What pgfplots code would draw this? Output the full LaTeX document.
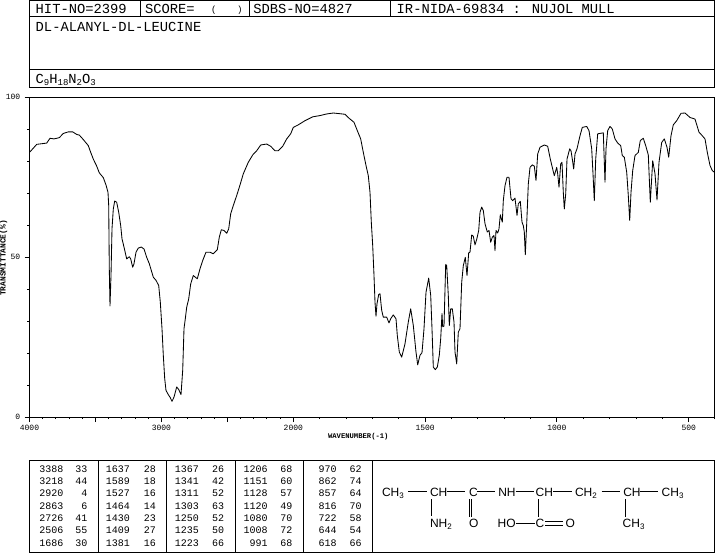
\documentclass[border=0pt]{standalone}
\usepackage{fontspec}
\usepackage{pgfplots}
\pgfplotsset{compat=1.18}
\setmainfont{Liberation Sans}
\newfontfamily\monoface{Liberation Mono}
\newcommand{\hd}{\monoface\fontsize{13.8}{14}\selectfont}
\newcommand{\hds}{\monoface\fontsize{9}{9}\selectfont}
\newcommand{\tb}{\monoface\fontsize{10}{10}\selectfont}
\newcommand{\ticks}{\monoface\fontsize{8}{8}\selectfont}
\newcommand{\st}{\fontsize{12}{12}\selectfont}
\newcommand{\sts}{\fontsize{8}{8}\selectfont}
\pgfplotstableread{
pos T
0.0 82.7
3.8 84.0
7.2 85.2
12.2 85.4
17.2 85.6
20.5 87.1
24.5 86.9
29.8 87.3
33.8 88.6
38.8 89.1
43.2 89.1
47.2 88.3
49.8 88.1
53.8 86.7
58.8 84.8
61.2 82.7
63.8 80.6
67.2 78.4
69.8 76.3
73.8 74.8
76.5 72.5
78.5 70.2
79.2 66.1
79.8 46.3
80.5 34.7
81.5 44.2
82.5 58.8
83.8 65.0
85.2 67.5
87.2 67.1
89.2 64.0
91.2 59.8
92.5 55.7
94.5 53.1
97.2 49.4
99.8 50.1
101.2 49.4
103.2 46.8
104.5 47.9
106.5 51.5
108.8 52.8
111.8 53.1
114.5 52.5
117.2 49.9
119.8 47.9
121.8 45.8
123.8 43.7
126.5 42.7
129.2 41.1
130.8 35.9
132.5 27.6
133.8 19.3
135.2 12.0
136.5 8.3
138.8 7.0
140.5 6.2
142.5 4.9
144.5 6.2
147.2 9.4
149.2 8.6
151.5 7.0
153.2 14.6
154.5 27.6
155.8 30.7
157.2 34.3
159.2 36.9
161.2 41.6
163.8 44.2
167.8 43.2
170.5 46.3
173.2 48.9
176.5 51.5
180.5 51.5
183.8 51.0
187.8 52.3
189.8 56.2
191.8 58.5
194.5 58.3
197.2 57.4
199.2 58.8
201.2 63.5
203.8 66.1
207.2 69.2
210.5 72.5
213.8 76.0
218.8 79.6
223.2 81.9
227.2 83.2
231.2 85.0
237.2 85.3
241.2 84.6
245.5 83.2
248.8 83.2
253.2 84.6
257.2 86.9
261.2 88.5
263.8 90.5
268.8 91.3
275.5 92.6
283.2 93.8
290.5 94.2
297.2 94.7
303.8 95.0
315.5 94.6
319.8 93.3
324.5 92.1
327.8 89.5
331.2 86.9
333.8 82.7
336.5 78.6
338.8 75.4
340.5 70.2
341.8 60.9
343.2 53.6
344.5 44.2
345.5 35.9
346.5 31.5
347.5 35.4
349.2 38.3
350.5 38.5
352.2 33.3
353.8 31.2
357.2 31.2
359.5 29.4
361.2 30.7
363.8 31.9
366.5 30.7
367.8 25.5
369.8 20.3
372.2 18.7
375.5 22.9
378.8 29.7
381.2 33.8
383.8 28.6
386.5 20.3
388.2 16.3
390.5 19.3
392.5 20.1
394.5 27.6
396.5 39.0
399.2 43.4
401.2 38.0
402.5 27.6
403.8 15.6
405.8 14.8
407.8 15.6
409.8 19.3
411.2 24.5
412.5 32.3
413.2 28.2
414.5 28.4
416.2 47.7
417.2 47.3
418.8 38.0
419.8 28.6
421.2 33.8
422.8 33.8
424.5 29.7
425.5 20.3
427.2 16.6
428.8 26.5
430.5 27.6
432.2 42.1
433.8 47.3
435.8 49.9
437.5 44.2
439.2 51.3
440.5 51.5
442.2 56.9
443.8 56.5
445.5 53.8
447.2 55.5
449.2 58.3
450.5 64.0
452.2 65.6
453.8 64.5
455.5 60.4
457.8 57.8
459.5 58.3
461.2 54.6
462.8 56.2
464.5 56.7
465.5 52.0
466.5 58.3
468.2 57.5
469.5 58.8
470.8 63.2
472.8 60.9
473.8 67.6
475.5 72.3
477.5 74.9
479.5 74.9
481.5 68.2
483.2 67.6
485.5 68.4
487.5 63.0
488.8 66.6
490.8 67.4
492.5 60.9
493.8 59.8
494.8 57.8
495.8 50.7
497.2 60.4
498.8 72.8
500.5 78.0
502.8 78.8
504.8 78.4
506.5 73.9
508.2 82.2
510.5 84.3
514.8 85.0
518.2 84.6
520.8 80.6
522.8 78.0
524.8 75.4
527.2 78.0
528.2 76.0
529.5 71.8
531.2 79.1
532.5 79.6
533.8 70.2
534.8 65.0
536.2 69.7
537.5 80.6
540.2 83.8
541.5 83.2
542.8 80.6
544.2 77.5
545.5 82.2
547.5 83.8
550.5 87.9
552.8 90.5
557.2 90.8
559.5 89.5
562.2 83.8
563.5 76.0
564.8 67.6
566.2 80.6
568.2 88.5
573.8 88.8
575.5 73.4
576.5 83.8
578.2 89.5
580.5 90.8
582.8 90.0
585.5 86.9
588.2 85.6
591.2 84.8
592.8 81.7
594.8 81.2
597.2 76.5
598.8 69.2
600.2 61.4
601.5 70.2
603.2 77.0
605.5 81.7
608.8 82.7
610.8 86.4
613.8 87.1
616.2 84.8
618.8 81.9
620.8 67.1
623.2 80.1
625.5 76.0
627.5 67.8
629.5 79.6
632.2 85.8
634.8 86.9
637.5 84.3
639.2 81.2
641.5 87.9
643.8 91.3
647.2 92.6
651.5 94.9
655.5 95.0
660.5 93.6
665.5 93.1
669.5 89.0
672.2 88.1
675.5 86.9
677.8 82.7
680.5 78.6
682.8 77.0
684.8 76.5
}\spectrum
\begin{document}
\begin{tikzpicture}[x=1pt,y=-1pt,line width=0.9pt]
\path[use as bounding box] (0,0) rectangle (715,553);
\begin{axis}[
  at={(29.5pt,-417pt)},anchor=south west,
  scale only axis,width=685pt,height=320pt,
  xmin=0,xmax=685,ymin=0,ymax=100,
  axis line style={line width=0.9pt},
  tick style={black,line width=0.9pt},
  tick align=outside,xtick pos=bottom,ytick pos=left,
  major tick length=5pt,minor tick length=2.2pt,
  xtick={0,65.95,131.9,197.8,263.8,395.6,527.4,659.3},
  xticklabels={4000,,3000,,2000,1500,1000,500},
  minor xtick={13.2,26.4,39.6,52.8,79.1,92.3,105.5,118.7,145.1,158.3,171.5,184.6,211,224.2,237.4,250.6,290.2,316.5,342.9,369.3,421.9,448.3,474.7,501,553.8,580.2,606.5,632.9,685},
  ytick={0,50,100},yticklabels={0,50,100},
  minor ytick={10,20,30,40,60,70,80,90},
  tick label style={font=\ticks,inner sep=0pt},
  xticklabel style={yshift=-3pt},
  yticklabel style={xshift=-4pt},
  xlabel={\monoface\bfseries\fontsize{7.2}{7.2}\selectfont WAVENUMBER(-1)},
  xlabel style={at={(axis description cs:0.48,-0.06)},anchor=center,inner sep=0pt},
  ylabel={\monoface\bfseries\fontsize{7.9}{7.9}\selectfont TRANSMITTANCE(\%)},
  ylabel style={at={(axis description cs:-0.038,0.497)},anchor=center,inner sep=0pt},
]
\addplot[black,line width=0.85pt,line join=round] table[x=pos,y=T] {\spectrum};
\end{axis}
\begin{scope}[every node/.style={inner sep=0pt,outer sep=0pt}]
% header
\draw (29.3,0.5) rectangle (714.3,87.3);
\draw (29.3,16.7)--(714.3,16.7) (29.3,69.3)--(714.3,69.3);
\draw (140.7,0.5)--(140.7,16.7) (249,0.5)--(249,16.7) (390.7,0.5)--(390.7,16.7);
\node[anchor=base west,font=\hd] at (35.7,13.5) {HIT-NO=2399};
\node[anchor=base west,font=\hd] at (145,13.5) {SCORE=};
\node[anchor=base west,font=\hds] at (211,13) {(};
\node[anchor=base west,font=\hds] at (237,13) {)};
\node[anchor=base west,font=\hd] at (253.3,13.5) {SDBS-NO=4827};
\node[anchor=base west,font=\hd] at (396.7,13.5) {IR-NIDA-69834 : NUJOL MULL};
\node[anchor=base west,font=\hd] at (35.7,31.5) {DL-ALANYL-DL-LEUCINE};
\node[anchor=base west,font=\hd] at (35.7,84) {C\raisebox{-1.5pt}{\hds 9}H\raisebox{-1.5pt}{\hds 18}N\raisebox{-1.5pt}{\hds 2}O\raisebox{-1.5pt}{\hds 3}};
% peak table
\draw (29.3,460.7) rectangle (714.3,552.3);
\foreach \x in {98.3,166.3,235.7,303.7,372.7} \draw (\x,460.7)--(\x,552.3);
\foreach \a/\b [count=\i from 0] in {3388/33,3218/44,2920/4,2863/6,2726/41,2506/55,1686/30}{
  \node[anchor=base east,font=\tb] at (63.3,472.3+12.33*\i) {\a};
  \node[anchor=base east,font=\tb] at (87.3,472.3+12.33*\i) {\b};}
\foreach \a/\b [count=\i from 0] in {1637/28,1589/18,1527/16,1464/14,1430/23,1409/27,1381/16}{
  \node[anchor=base east,font=\tb] at (130,472.3+12.33*\i) {\a};
  \node[anchor=base east,font=\tb] at (156,472.3+12.33*\i) {\b};}
\foreach \a/\b [count=\i from 0] in {1367/26,1341/42,1311/52,1303/63,1250/52,1235/50,1223/66}{
  \node[anchor=base east,font=\tb] at (199,472.3+12.33*\i) {\a};
  \node[anchor=base east,font=\tb] at (224,472.3+12.33*\i) {\b};}
\foreach \a/\b [count=\i from 0] in {1206/68,1151/60,1128/57,1120/49,1080/70,1008/72,991/68}{
  \node[anchor=base east,font=\tb] at (267.7,472.3+12.33*\i) {\a};
  \node[anchor=base east,font=\tb] at (292.3,472.3+12.33*\i) {\b};}
\foreach \a/\b [count=\i from 0] in {970/62,862/74,857/64,816/70,722/58,644/54,618/66}{
  \node[anchor=base east,font=\tb] at (336.7,472.3+12.33*\i) {\a};
  \node[anchor=base east,font=\tb] at (361.7,472.3+12.33*\i) {\b};}
% structure
\newcommand{\sub}[1]{\raisebox{-2pt}{\sts #1}}
\foreach \x/\t in {382/CH\sub{3},430/CH,469/C,498.3/NH,535.7/CH,575/CH\sub{2},623.3/CH,661.7/CH\sub{3}}
  \node[anchor=base west,font=\st] at (\x,496) {\t};
\foreach \x/\t in {430/NH\sub{2},469/O,497.7/HO,535.7/C,565.7/O,622.7/CH\sub{3}}
  \node[anchor=base west,font=\st] at (\x,527.5) {\t};
\draw[line width=0.8pt] (408.3,491.7)--(426.7,491.7) (447.3,491.7)--(465,491.7) (476.7,491.7)--(495,491.7)
  (515.7,491.7)--(533.5,491.7) (553.3,491.7)--(571.7,491.7) (601.7,491.7)--(620,491.7) (640,491.7)--(658.3,491.7)
  (431.7,499.3)--(431.7,516) (469,499.3)--(469,516.7) (471.3,499.3)--(471.3,516.7)
  (538.3,499.3)--(538.3,516.7) (625,499.3)--(625,516.7)
  (515.7,523.3)--(534.5,523.3) (545,521.7)--(563,521.7) (545,525)--(563,525);
\end{scope}
\end{tikzpicture}
\end{document}
